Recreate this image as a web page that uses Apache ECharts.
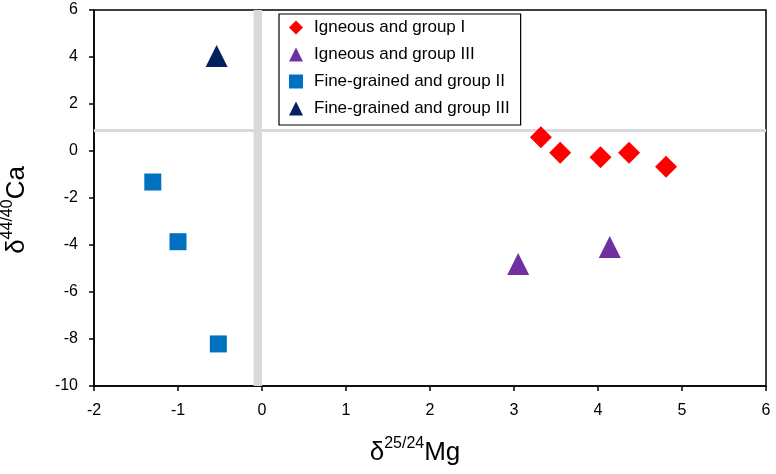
<!DOCTYPE html>
<html>
<head>
<meta charset="utf-8">
<script src="https://cdn.jsdelivr.net/npm/echarts@6/dist/echarts.min.js"></script>
<style>html,body{margin:0;padding:0;background:#fff;}#c{width:776px;height:474px;}</style>
</head>
<body>
<div id="c"></div>
<script>
// Data (x = δ25/24Mg, y = δ44/40Ca)
var igneousGroupI = [[3.32, 0.58], [3.55, -0.07], [4.03, -0.27], [4.37, -0.07], [4.81, -0.67]];
var igneousGroupIII = [[3.05, -4.81], [4.14, -4.09]];
var fineGroupII = [[-1.30, -1.32], [-1.00, -3.86], [-0.52, -8.21]];
var fineGroupIII = [[-0.54, 4.04]];
var seriesNames = ['Igneous and group I', 'Igneous and group III', 'Fine-grained and group II', 'Fine-grained and group III'];
var refCa = [0.9];          // horizontal reference line (y)
var refMgBand = [-0.1, 0];  // vertical reference band (x)
var xTicks = { min: -2, max: 6, interval: 1 };
var yTicks = { min: -10, max: 6, interval: 2 };

var FONT = '"Liberation Sans", Arial, sans-serif';
var chart = echarts.init(document.getElementById('c'), null, { renderer: 'canvas' });
chart.setOption({
  animation: false,
  backgroundColor: '#fff',
  textStyle: { fontFamily: FONT },
  grid: { left: 94, right: 10, top: 10, bottom: 88, containLabel: false, outerBoundsMode: 'none', show: true, borderColor: '#000', borderWidth: 1.5, backgroundColor: 'transparent' },
  legend: {
    orient: 'vertical', left: 279, top: 14,
    padding: [5, 11, 8, 10],
    itemWidth: 14, itemHeight: 14, itemGap: 10,
    symbolKeepAspect: true,
    borderColor: '#000', borderWidth: 1.2, backgroundColor: '#fff',
    textStyle: { fontFamily: FONT, fontSize: 17, color: '#000', padding: [0, 0, 0, 6] },
    data: [
      { name: seriesNames[0], icon: 'diamond' },
      { name: seriesNames[1], icon: 'triangle' },
      { name: seriesNames[2], icon: 'path://M2,2L12,2L12,12L2,12Z' },
      { name: seriesNames[3], icon: 'triangle' }
    ]
  },
  xAxis: {
    type: 'value', min: xTicks.min, max: xTicks.max, interval: xTicks.interval,
    axisLine: { onZero: false, lineStyle: { color: '#000', width: 1.5 } },
    axisTick: { show: true, length: 5, lineStyle: { color: '#000', width: 1.5 } },
    splitLine: { show: false },
    axisLabel: { color: '#000', fontSize: 16, fontFamily: FONT, margin: 17 },
    name: '{d|δ}{s|25/24}{m|Mg}', nameLocation: 'middle', nameGap: 50,
    nameTextStyle: {
      padding: [0, 30, 0, 0],
      rich: {
        d: { fontSize: 26, fontFamily: FONT, color: '#000', verticalAlign: 'bottom', lineHeight: 30 },
        s: { fontSize: 16, fontFamily: FONT, color: '#000', verticalAlign: 'top', lineHeight: 30 },
        m: { fontSize: 26, fontFamily: FONT, color: '#000', verticalAlign: 'bottom', lineHeight: 30 }
      }
    }
  },
  yAxis: {
    type: 'value', min: yTicks.min, max: yTicks.max, interval: yTicks.interval,
    axisLine: { onZero: false, lineStyle: { color: '#000', width: 1.5 } },
    axisTick: { show: true, length: 5, lineStyle: { color: '#000', width: 1.5 } },
    splitLine: { show: false },
    axisLabel: { color: '#000', fontSize: 16, fontFamily: FONT, margin: 16 },
    name: '{d|δ}{s|44/40}{m|Ca}', nameLocation: 'middle', nameRotate: 90, nameGap: 64,
    nameTextStyle: {
      padding: [0, 24, 0, 0],
      rich: {
        d: { fontSize: 26, fontFamily: FONT, color: '#000', verticalAlign: 'bottom', lineHeight: 30 },
        s: { fontSize: 16, fontFamily: FONT, color: '#000', verticalAlign: 'top', lineHeight: 30 },
        m: { fontSize: 26, fontFamily: FONT, color: '#000', verticalAlign: 'bottom', lineHeight: 30 }
      }
    }
  },
  series: [
    {
      name: 'refs', type: 'scatter', data: [], silent: true, z: 1,
      markArea: { silent: true, z: 1, itemStyle: { color: '#d9d9d9' }, data: [[{ xAxis: refMgBand[0] }, { xAxis: refMgBand[1] }]] },
      markLine: { silent: true, z: 1, symbol: ['none', 'none'], label: { show: false }, lineStyle: { color: '#d9d9d9', width: 3, type: 'solid' }, data: [{ yAxis: refCa[0] }] }
    },
    { name: seriesNames[0], type: 'scatter', z: 5, symbol: 'diamond', symbolSize: 22, itemStyle: { color: '#ff0000', opacity: 1 }, data: igneousGroupI },
    { name: seriesNames[1], type: 'scatter', z: 5, symbol: 'triangle', symbolSize: 22, itemStyle: { color: '#7030a0', opacity: 1 }, data: igneousGroupIII },
    { name: seriesNames[2], type: 'scatter', z: 5, symbol: 'rect', symbolSize: 17, itemStyle: { color: '#0070c0', opacity: 1 }, data: fineGroupII },
    { name: seriesNames[3], type: 'scatter', z: 5, symbol: 'triangle', symbolSize: 22, itemStyle: { color: '#002060', opacity: 1 }, data: fineGroupIII }
  ]
});
</script>
</body>
</html>
